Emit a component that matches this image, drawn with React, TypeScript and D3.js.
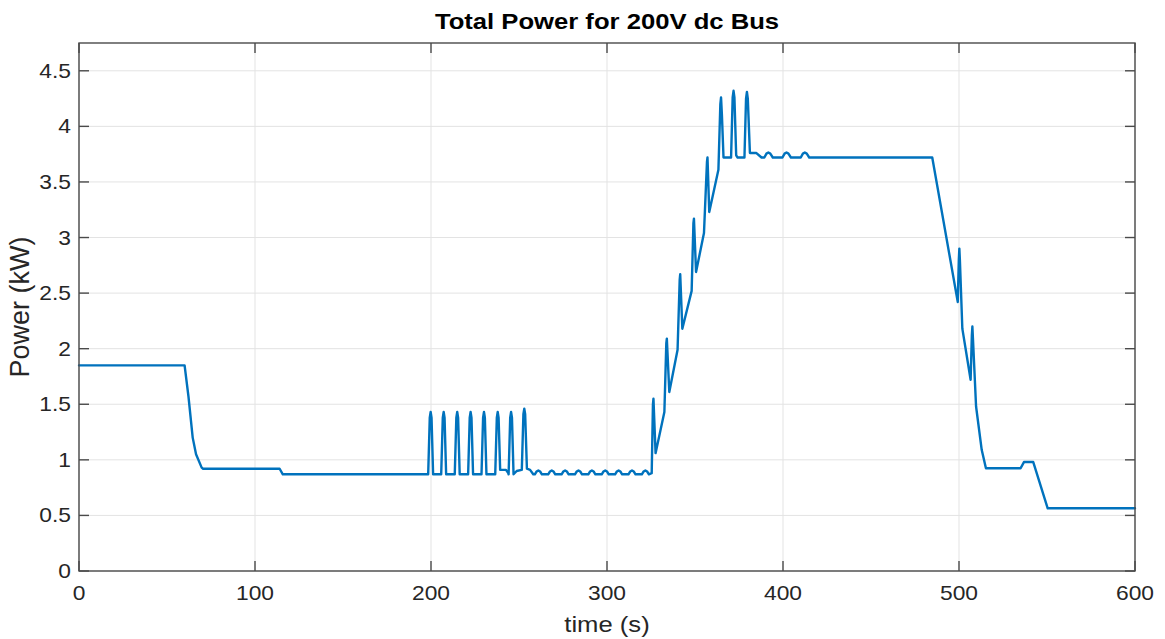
import React from "react";
import * as d3 from "d3";

const title = "Total Power for 200V dc Bus";
const xLabel = "time (s)";
const yLabel = "Power (kW)";
const xTicks = [0, 100, 200, 300, 400, 500, 600];
const yTicks = [0, 0.5, 1, 1.5, 2, 2.5, 3, 3.5, 4, 4.5];
const yTickLabels = ["0", "0.5", "1", "1.5", "2", "2.5", "3", "3.5", "4", "4.5"];

// time (s)
const time = [
  0, 60, 62.2, 64.6, 66.5, 69.7, 70.5, 114, 115.8,
  198.4, 199.3, 199.8, 200.3, 201.2,
  205.8, 206.7, 207.2, 207.7, 208.6,
  213.5, 214.4, 214.9, 215.4, 216.3,
  221.1, 222.0, 222.5, 223.0, 223.9,
  228.7, 229.6, 230.1, 230.6, 231.5,
  236.5, 237.4, 237.9, 238.4, 239.3, 242.6, 243.9,
  244.1, 245.0, 245.5, 246.0, 246.9, 248.7, 251.5,
  251.6, 252.5, 253.0, 253.5, 254.5, 256.3, 258.1,
  259.0, 260.0, 261.0, 262.0, 263.0,
  266.6, 267.6, 268.6, 269.6, 270.6,
  274.2, 275.2, 276.2, 277.2, 278.2,
  281.8, 282.8, 283.8, 284.8, 285.8,
  289.4, 290.4, 291.4, 292.4, 293.4,
  297.0, 298.0, 299.0, 300.0, 301.0,
  304.6, 305.6, 306.6, 307.6, 308.6,
  312.2, 313.2, 314.2, 315.2, 316.2,
  319.8, 320.8, 321.8, 322.8, 323.8,
  325.4, 326.1, 326.4, 327.6, 332.6, 333.7, 334.0, 335.4,
  340.1, 341.3, 341.6, 342.8, 348.1, 349.1, 349.4, 350.6,
  355.1, 356.8, 357.1, 358.1, 363.3, 364.4, 364.8, 365.3, 366.2,
  370.5, 371.4, 371.9, 372.4, 373.4, 374.2,
  378.1, 379.0, 379.5, 380.0, 381.2, 384.9, 387.8,
  389.4, 390.6, 391.7, 392.8, 394.2, 397.3,
  399.7, 400.9, 402.0, 403.1, 404.5, 407.6,
  410.1, 411.3, 412.4, 413.5, 414.9, 416.5,
  484.8, 499.3, 499.9, 500.2, 500.5, 501.9, 506.6, 507.3, 507.6, 507.9, 509.7,
  512.9, 515.3, 535.0, 536.9, 542.2, 550.4, 600,
];

// power (kW)
const power = [
  1.85, 1.85, 1.57, 1.2, 1.05, 0.93, 0.92, 0.92, 0.87,
  0.87, 1.38, 1.43, 1.38, 0.87,
  0.87, 1.38, 1.43, 1.38, 0.87,
  0.87, 1.38, 1.43, 1.38, 0.87,
  0.87, 1.38, 1.43, 1.38, 0.87,
  0.87, 1.38, 1.43, 1.38, 0.87,
  0.87, 1.38, 1.43, 1.38, 0.91, 0.91, 0.88,
  0.87, 1.38, 1.43, 1.38, 0.87, 0.9, 0.91,
  0.91, 1.41, 1.46, 1.41, 0.92, 0.91, 0.87,
  0.87, 0.895, 0.905, 0.895, 0.87,
  0.87, 0.895, 0.905, 0.895, 0.87,
  0.87, 0.895, 0.905, 0.895, 0.87,
  0.87, 0.895, 0.905, 0.895, 0.87,
  0.87, 0.895, 0.905, 0.895, 0.87,
  0.87, 0.895, 0.905, 0.895, 0.87,
  0.87, 0.895, 0.905, 0.895, 0.87,
  0.87, 0.895, 0.905, 0.895, 0.87,
  0.87, 0.895, 0.905, 0.895, 0.87,
  0.88, 1.5, 1.55, 1.06, 1.43, 2.05, 2.09, 1.61,
  1.99, 2.62, 2.67, 2.18, 2.52, 3.13, 3.17, 2.69,
  3.04, 3.68, 3.72, 3.23, 3.61, 4.2, 4.26, 4.1, 3.72,
  3.72, 4.26, 4.32, 4.26, 3.74, 3.72,
  3.72, 4.25, 4.31, 4.25, 3.76, 3.76, 3.72,
  3.72, 3.755, 3.765, 3.755, 3.72, 3.72,
  3.72, 3.755, 3.765, 3.755, 3.72, 3.72,
  3.72, 3.755, 3.765, 3.755, 3.72, 3.72,
  3.72, 2.42, 2.8, 2.9, 2.8, 2.18, 1.72, 2.12, 2.2, 2.1, 1.48,
  1.09, 0.924, 0.924, 0.98, 0.98, 0.564, 0.564,
];

const W = 1165;
const H = 639;
const M = { left: 79, right: 1135, top: 43, bottom: 571 };
const FONT = "'Liberation Sans', Arial, Helvetica, sans-serif";
const SX = 1.14;

export default function App() {
  const x = d3.scaleLinear().domain([0, 600]).range([M.left, M.right]);
  const y = d3.scaleLinear().domain([0, 4.75]).range([M.bottom, M.top]);
  const pts: [number, number][] = time.map((t, i) => [t, power[i]]);
  const line = d3
    .line<[number, number]>()
    .x((d) => x(d[0]))
    .y((d) => y(d[1]));
  const tickLen = 10;
  const axisColor = "#4a4a4a";
  const gridColor = "#e3e3e3";
  const textColor = "#262626";

  return (
    <svg
      width={W}
      height={H}
      style={{ position: "absolute", left: 0, top: 0, background: "#fff" }}
      fontFamily={FONT}
    >
      <rect x={0} y={0} width={W} height={H} fill="#fff" />
      {xTicks.map((t) => (
        <line key={"gx" + t} x1={x(t)} x2={x(t)} y1={M.top} y2={M.bottom} stroke={gridColor} strokeWidth={1} />
      ))}
      {yTicks.map((t) => (
        <line key={"gy" + t} x1={M.left} x2={M.right} y1={y(t)} y2={y(t)} stroke={gridColor} strokeWidth={1} />
      ))}
      <path d={line(pts) || ""} fill="none" stroke="#0072BD" strokeWidth={2.4} strokeLinejoin="round" strokeLinecap="round" />
      <rect x={M.left} y={M.top} width={M.right - M.left} height={M.bottom - M.top} fill="none" stroke={axisColor} strokeWidth={1.4} />
      {xTicks.map((t) => (
        <g key={"tx" + t}>
          <line x1={x(t)} x2={x(t)} y1={M.bottom} y2={M.bottom - tickLen} stroke={axisColor} strokeWidth={1.4} />
          <line x1={x(t)} x2={x(t)} y1={M.top} y2={M.top + tickLen} stroke={axisColor} strokeWidth={1.4} />
          <text
            transform={`translate(${x(t)},${600}) scale(${SX},1)`}
            textAnchor="middle"
            fontSize={20}
            fill={textColor}
          >
            {String(t)}
          </text>
        </g>
      ))}
      {yTicks.map((t, i) => (
        <g key={"ty" + t}>
          <line x1={M.left} x2={M.left + tickLen} y1={y(t)} y2={y(t)} stroke={axisColor} strokeWidth={1.4} />
          <line x1={M.right} x2={M.right - tickLen} y1={y(t)} y2={y(t)} stroke={axisColor} strokeWidth={1.4} />
          <text
            transform={`translate(${71},${y(t) + 7}) scale(${SX},1)`}
            textAnchor="end"
            fontSize={20}
            fill={textColor}
          >
            {yTickLabels[i]}
          </text>
        </g>
      ))}
      <text
        transform={`translate(${(M.left + M.right) / 2},${632}) scale(${SX},1)`}
        textAnchor="middle"
        fontSize={22.5}
        fill={textColor}
      >
        {xLabel}
      </text>
      <text
        transform={`translate(${29},${(M.top + M.bottom) / 2}) rotate(-90)`}
        textAnchor="middle"
        fontSize={27}
        fill={textColor}
      >
        {yLabel}
      </text>
      <text
        transform={`translate(${(M.left + M.right) / 2},${29}) scale(${SX},1)`}
        textAnchor="middle"
        fontSize={22.5}
        fontWeight="bold"
        fill="#000"
      >
        {title}
      </text>
    </svg>
  );
}
